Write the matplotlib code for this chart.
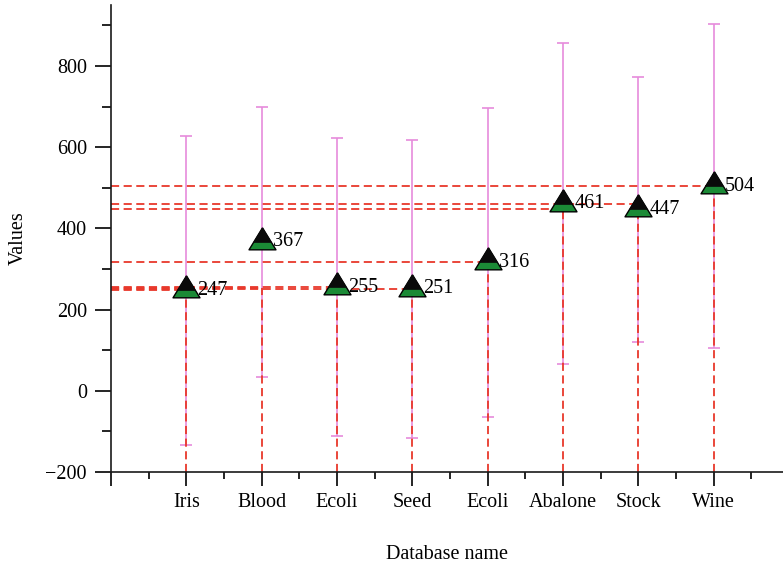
import matplotlib
matplotlib.use('Agg')
import matplotlib.pyplot as plt
import numpy as np

# ---- data ----
categories = ['Iris', 'Blood', 'Ecoli', 'Seed', 'Ecoli', 'Abalone', 'Stock', 'Wine']
values = [247, 367, 255, 251, 316, 461, 447, 504]
errors = [380, 333, 367, 367, 381, 395, 326, 398]
# levels of the red dashed drop lines as drawn in the original figure
drop_values = [247, 252, 255, 251, 316, 447, 461, 504]
y_ticks = [-200, 0, 200, 400, 600, 800]
y_minor = [-100, 100, 300, 500, 700, 900]

FS = 14.5
plt.rcParams['font.family'] = ['Liberation Serif', 'DejaVu Serif']
plt.rcParams['font.size'] = FS

fig = plt.figure(figsize=(7.83, 5.63), dpi=100)
ax = fig.add_axes([111 / 783, 91 / 563, 672 / 783, 467 / 563])

x = np.arange(1, len(categories) + 1)
xmin, xmax = 0, 8.92
ymin, ymax = -200, 950

red = '#e8382b'
pink = '#e68bdc'

# error bars
ax.errorbar(x, values, yerr=errors, fmt='none', ecolor=pink, elinewidth=1.2,
            capsize=4, capthick=1.2, zorder=1)

# drop lines (horizontal to y axis, vertical to x axis)
for xi, v in zip(x, drop_values):
    ax.plot([xmin, xi], [v, v], color=red, lw=1.3, ls=(0, (4.5, 2.5)), zorder=2)
    ax.plot([xi, xi], [ymin, v], color=red, lw=1.3, ls=(0, (4.5, 2.5)), zorder=2)

# markers: triangle centred on its centroid, upper part black, lower part green
full_tri = [(0, 1), (-0.92, -0.5), (0.92, -0.5), (0, 1)]
top_tri = [(0, 1), (-0.613, 0), (0.613, 0), (0, 1)]
ms = 21.1
ax.plot(x, values, ls='none', marker=full_tri, markersize=ms,
        markerfacecolor='#1b8a36', markeredgecolor='black', markeredgewidth=1.0, zorder=3)
ax.plot(x, values, ls='none', marker=top_tri, markersize=ms,
        markerfacecolor='#0a0a0a', markeredgecolor='#0a0a0a', markeredgewidth=0.5, zorder=4)

for xi, v in zip(x, values):
    ax.annotate(str(v), (xi, v), xytext=(8, 0), textcoords='offset points',
                ha='left', va='center', fontsize=FS, zorder=5)

ax.set_xlim(xmin, xmax)
ax.set_ylim(ymin, ymax)

ax.set_xticks(np.arange(0, len(categories) + 1))
ax.set_xticklabels([''] + categories)
ax.set_xticks(np.arange(0.5, len(categories) + 1, 1.0), minor=True)
ax.set_yticks(y_ticks)
ax.set_yticks(y_minor, minor=True)

for s in ['top', 'right']:
    ax.spines[s].set_visible(False)
for s in ['left', 'bottom']:
    ax.spines[s].set_linewidth(1.2)
    ax.spines[s].set_color('#1a1a1a')

ax.tick_params(axis='x', which='major', direction='out', length=10, width=1.2, pad=5, labelsize=FS)
ax.tick_params(axis='x', which='minor', direction='out', length=5, width=1.2)
ax.tick_params(axis='y', which='major', direction='out', length=11.5, width=1.2, pad=5.8, labelsize=FS)
ax.tick_params(axis='y', which='minor', direction='out', length=6.5, width=1.2)

ax.set_xlabel('Database name', fontsize=FS)
ax.set_ylabel('Values', fontsize=FS)
ax.xaxis.set_label_coords(0.5, -0.156)
ax.yaxis.set_label_coords(-0.124, 0.5)

fig.savefig('out.png', dpi=100)
